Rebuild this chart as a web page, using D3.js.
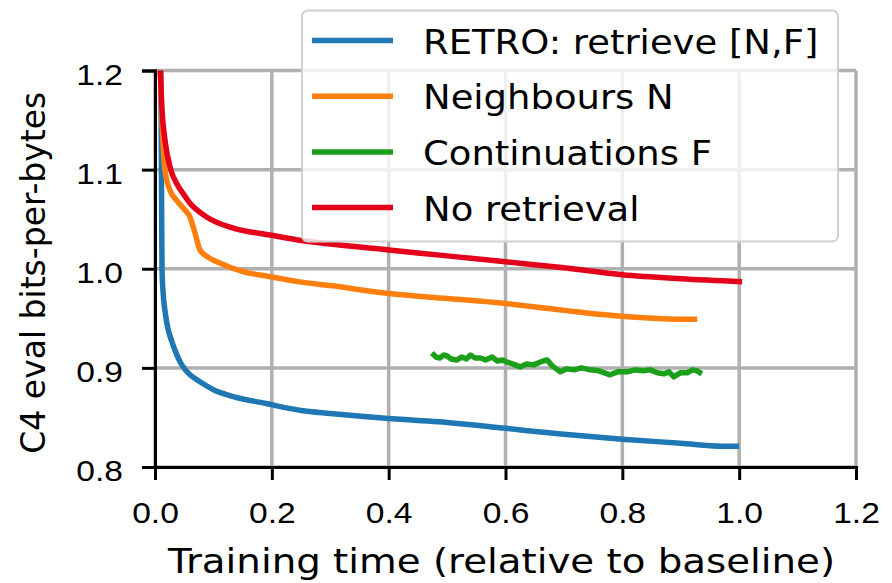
<!DOCTYPE html>
<html>
<head>
<meta charset="utf-8">
<script src="https://cdn.jsdelivr.net/npm/d3@7"></script>
<style>
  body { margin: 0; background: #fff; }
  svg { display: block; font-family: "DejaVu Sans", sans-serif; }
</style>
</head>
<body>
<div id="chart"></div>
<script>
// values, [training time, bits-per-byte]
const retro = [
  [0.010, 1.200], [0.011, 1.100], [0.012, 1.000], [0.014, 0.975], [0.017, 0.958],
  [0.022, 0.940], [0.028, 0.928], [0.034, 0.918], [0.043, 0.906], [0.052, 0.898],
  [0.060, 0.893], [0.077, 0.886], [0.100, 0.878], [0.134, 0.871], [0.190, 0.864],
  [0.250, 0.857], [0.300, 0.854], [0.400, 0.849], [0.450, 0.847], [0.500, 0.845],
  [0.600, 0.839], [0.700, 0.833], [0.800, 0.828], [0.900, 0.824], [0.970, 0.821],
  [1.000, 0.821]
];
const neighbours = [
  [0.009, 1.200], [0.012, 1.150], [0.017, 1.100], [0.025, 1.080], [0.037, 1.069],
  [0.050, 1.060], [0.060, 1.052], [0.0685, 1.036], [0.077, 1.019], [0.090, 1.012],
  [0.106, 1.007], [0.151, 0.997], [0.197, 0.992], [0.245, 0.987], [0.300, 0.983],
  [0.400, 0.975], [0.500, 0.970], [0.600, 0.965], [0.700, 0.958], [0.800, 0.952],
  [0.900, 0.949], [0.928, 0.949]
];
const continuations = [
  [0.474, 0.915], [0.481, 0.911], [0.488, 0.910], [0.494, 0.913], [0.500, 0.912],
  [0.507, 0.909], [0.517, 0.908], [0.525, 0.911], [0.533, 0.909], [0.540, 0.913],
  [0.548, 0.910], [0.557, 0.910], [0.566, 0.908], [0.577, 0.911], [0.586, 0.907],
  [0.595, 0.908], [0.602, 0.906], [0.612, 0.904], [0.625, 0.901], [0.636, 0.904],
  [0.648, 0.903], [0.660, 0.906], [0.671, 0.908], [0.680, 0.902], [0.694, 0.896],
  [0.705, 0.899], [0.717, 0.898], [0.730, 0.900], [0.745, 0.898], [0.760, 0.897],
  [0.779, 0.893], [0.792, 0.896], [0.808, 0.896], [0.822, 0.898], [0.835, 0.897],
  [0.848, 0.898], [0.860, 0.895], [0.871, 0.894], [0.880, 0.896], [0.888, 0.891],
  [0.899, 0.895], [0.911, 0.895], [0.920, 0.898], [0.928, 0.897], [0.936, 0.894]
];
const noRetrieval = [
  [0.009, 1.200], [0.012, 1.160], [0.017, 1.130], [0.027, 1.100], [0.038, 1.085],
  [0.048, 1.076], [0.060, 1.066], [0.089, 1.052], [0.134, 1.041], [0.197, 1.034],
  [0.245, 1.029], [0.300, 1.025], [0.400, 1.019], [0.500, 1.013], [0.600, 1.007],
  [0.700, 1.001], [0.800, 0.994], [0.900, 0.990], [1.005, 0.987]
];

const seriesNames = ["RETRO: retrieve [N,F]", "Neighbours N", "Continuations F", "No retrieval"];
const seriesColors = ["#1f77b4", "#ff7f0e", "#1ca01c", "#e4001b"];
const xTicks = [0.0, 0.2, 0.4, 0.6, 0.8, 1.0, 1.2];
const yTicks = [0.8, 0.9, 1.0, 1.1, 1.2];

const W = 892, H = 583;
const plotLeft = 155, plotRight = 856, plotTop = 70.5, plotBottom = 467;
const stretch = 1.12; // the reference text is a bit wider than it is tall

const svg = d3.select("#chart").append("svg")
  .attr("width", W)
  .attr("height", H);

const x = d3.scaleLinear().domain([0, 1.2]).range([plotLeft, plotRight]);
const y = d3.scaleLinear().domain([0.8, 1.2]).range([plotBottom, plotTop]);

// grid
svg.append("g").selectAll("line")
  .data(xTicks).enter().append("line")
  .attr("x1", d => x(d)).attr("x2", d => x(d))
  .attr("y1", plotTop).attr("y2", plotBottom)
  .attr("stroke", "#b0b0b0").attr("stroke-width", 3.5);
svg.append("g").selectAll("line")
  .data(yTicks).enter().append("line")
  .attr("x1", plotLeft).attr("x2", plotRight)
  .attr("y1", d => y(d)).attr("y2", d => y(d))
  .attr("stroke", "#b0b0b0").attr("stroke-width", 3.5);

// curves
svg.append("clipPath").attr("id", "plotClip")
  .append("rect").attr("x", plotLeft).attr("y", plotTop - 2)
  .attr("width", plotRight - plotLeft).attr("height", plotBottom - plotTop + 2);

const smooth = d3.line().x(d => x(d[0])).y(d => y(d[1])).curve(d3.curveMonotoneX);
const jagged = d3.line().x(d => x(d[0])).y(d => y(d[1]));
const allSeries = [retro, neighbours, continuations, noRetrieval];

svg.append("g").attr("clip-path", "url(#plotClip)")
  .selectAll("path")
  .data(allSeries).enter().append("path")
  .attr("d", (d, i) => i === 2 ? jagged(d) : smooth(d))
  .attr("fill", "none")
  .attr("stroke", (d, i) => seriesColors[i])
  .attr("stroke-width", 5.5)
  .attr("stroke-linejoin", "round");

// axes (left and bottom only)
const xAxis = svg.append("g")
  .attr("transform", `translate(0,${plotBottom})`)
  .call(d3.axisBottom(x).tickValues(xTicks).tickSize(13).tickPadding(0));
const yAxis = svg.append("g")
  .attr("transform", `translate(${plotLeft},0)`)
  .call(d3.axisLeft(y).tickValues(yTicks).tickSize(13).tickPadding(0));

[xAxis, yAxis].forEach(a => {
  a.select(".domain").attr("stroke", "#000").attr("stroke-width", 3);
  a.selectAll(".tick line").attr("stroke", "#000").attr("stroke-width", 3);
  a.selectAll(".tick text").remove();
});

// tick labels drawn by hand so they can be stretched like the reference
xAxis.selectAll(".tick").append("text")
  .attr("transform", `translate(0,56) scale(${stretch},1)`)
  .attr("text-anchor", "middle")
  .attr("fill", "#000")
  .style("font-size", "30px")
  .text(d => d3.format(".1f")(d));
yAxis.selectAll(".tick").append("text")
  .attr("transform", `translate(-32,13.5) scale(${stretch},1)`)
  .attr("text-anchor", "end")
  .attr("fill", "#000")
  .style("font-size", "30px")
  .text(d => d3.format(".1f")(d));

// axis titles
svg.append("text")
  .attr("transform", `translate(${(plotLeft + plotRight) / 2 - 4},573) scale(1.14,1)`)
  .attr("text-anchor", "middle")
  .style("font-size", "34px")
  .text("Training time (relative to baseline)");
svg.append("text")
  .attr("transform", `translate(45,${(plotTop + plotBottom) / 2 + 4}) rotate(-90)`)
  .attr("text-anchor", "middle")
  .style("font-size", "33px")
  .text("C4 eval bits-per-bytes");

// legend
const legend = svg.append("g");
legend.append("rect")
  .attr("x", 302).attr("y", 10.5)
  .attr("width", 536).attr("height", 231)
  .attr("rx", 6)
  .attr("fill", "#fff").attr("fill-opacity", 0.8)
  .attr("stroke", "#d0d0d0").attr("stroke-width", 2);

const rows = legend.selectAll("g.row")
  .data(seriesNames).enter().append("g")
  .attr("class", "row")
  .attr("transform", (d, i) => `translate(0,${40.5 + i * 55.7})`);
rows.append("line")
  .attr("x1", 312).attr("x2", 393)
  .attr("y1", 0).attr("y2", 0)
  .attr("stroke", (d, i) => seriesColors[i])
  .attr("stroke-width", 5.5);
rows.append("text")
  .attr("transform", `translate(423,13) scale(${stretch},1)`)
  .style("font-size", "33px")
  .text(d => d);
</script>
</body>
</html>
